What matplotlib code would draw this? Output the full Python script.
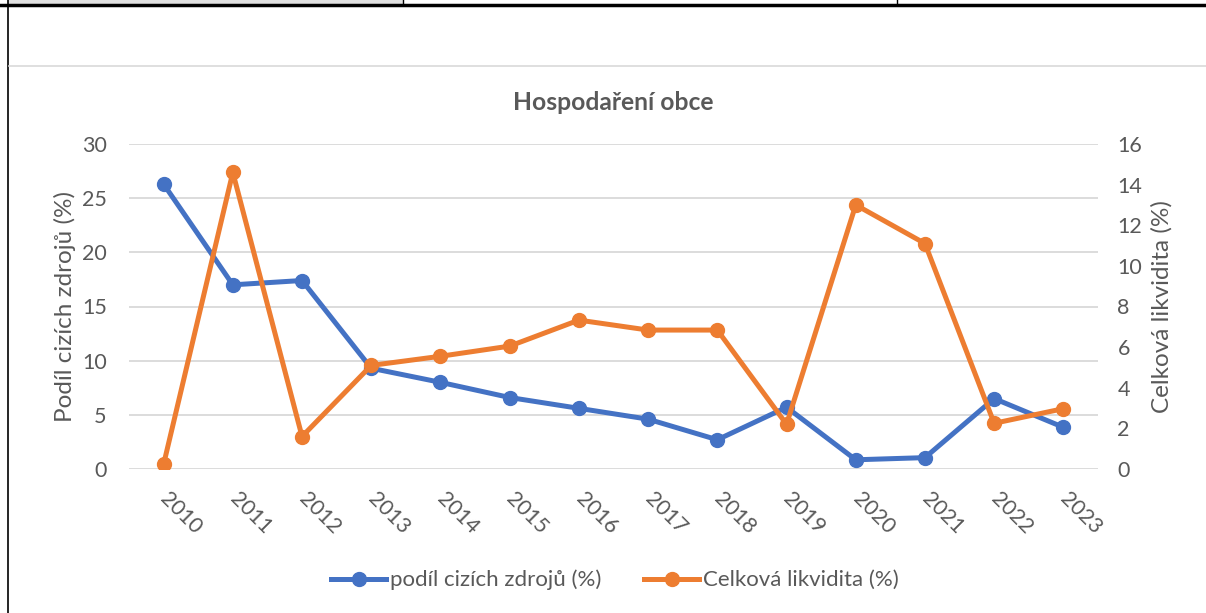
import matplotlib
matplotlib.use("Agg")
import matplotlib.pyplot as plt
from matplotlib.lines import Line2D
from matplotlib.patches import Rectangle

years = ["2010", "2011", "2012", "2013", "2014", "2015", "2016",
         "2017", "2018", "2019", "2020", "2021", "2022", "2023"]
podil = [26.3, 17.0, 17.4, 9.3, 8.0, 6.6, 5.6, 4.6, 2.7, 5.7, 0.85, 1.05, 6.5, 3.85]
likvidita = [0.23, 14.6, 1.6, 5.1, 5.55, 6.05, 7.33, 6.84, 6.84, 2.2, 13.0, 11.1, 2.25, 2.97]

title = "Hospodaření obce"
left_label = "Podíl cizích zdrojů (%)"
right_label = "Celková likvidita (%)"
name1 = "podíl cizích zdrojů (%)"
name2 = "Celková likvidita (%)"

BLUE = "#4472C4"
ORANGE = "#ED7D31"
TXT = "#595959"
GRID = "#D9D9D9"

plt.rcParams['font.family'] = ['Lato', 'DejaVu Sans']

fig = plt.figure(figsize=(12.06, 6.13), dpi=100)
W, H = 1206, 613

def fx(px):
    return px / W

def fy(py):
    return 1 - py / H

# page decorations (table cell borders around the chart)
fig.patches.append(Rectangle((fx(8), fy(4)), fx(395), 4 / H, transform=fig.transFigure,
                             facecolor="#E0E0E0", edgecolor="none"))
fig.lines.append(Line2D([0, 1], [fy(5), fy(5)], transform=fig.transFigure, color="black", lw=2.5))
fig.lines.append(Line2D([fx(403), fx(403)], [fy(0), fy(5)], transform=fig.transFigure, color="black", lw=1))
fig.lines.append(Line2D([fx(897), fx(897)], [fy(0), fy(5)], transform=fig.transFigure, color="black", lw=1))
fig.lines.append(Line2D([fx(8), fx(8)], [0, 1], transform=fig.transFigure, color="black", lw=1.2))
fig.lines.append(Line2D([fx(9), 1], [fy(66), fy(66)], transform=fig.transFigure, color=GRID, lw=1.2))

ax = fig.add_axes([fx(129), fy(469), fx(1098) - fx(129), (469 - 144) / H])
ax2 = ax.twinx()

x = list(range(len(years)))
ax.plot(x, podil, color=BLUE, lw=3.6, marker="o", ms=10, solid_capstyle="round", zorder=3)
ax2.plot(x, likvidita, color=ORANGE, lw=3.6, marker="o", ms=10, solid_capstyle="round", zorder=3)

ax.set_xlim(-0.5, len(years) - 0.5)
ax.set_ylim(0, 30)
ax2.set_ylim(0, 16)
ax.set_yticks(range(0, 31, 5))
ax2.set_yticks(range(0, 17, 2))
ax.set_xticks(x)
ax.set_xticklabels(years, rotation=-45, ha="left", va="center", rotation_mode="anchor")

for a in (ax, ax2):
    for s in a.spines.values():
        s.set_visible(False)
    a.tick_params(length=0, colors=TXT, labelsize=15.5)
ax.tick_params(axis="y", pad=16)
ax2.tick_params(axis="y", pad=14)
ax.tick_params(axis="x", pad=19)
ax.grid(axis="y", color=GRID, lw=1.3)
ax.set_axisbelow(True)

ax.set_ylabel(left_label, color=TXT, fontsize=17.5, labelpad=4)
ax2.set_ylabel(right_label, color=TXT, fontsize=17.5, labelpad=6)

fig.text(fx(613), fy(103), title, ha="center", va="center", fontsize=17.7,
         fontweight="bold", color=TXT)

h1 = Line2D([], [], color=BLUE, lw=3.6, marker="o", ms=10)
h2 = Line2D([], [], color=ORANGE, lw=3.6, marker="o", ms=10)
leg = fig.legend([h1, h2], [name1, name2], loc="center", bbox_to_anchor=(fx(615), fy(580)),
                 ncol=2, frameon=False, fontsize=16, handlelength=2.5, handletextpad=0.18,
                 columnspacing=1.9, labelcolor=TXT)

fig.savefig("out.png", dpi=100)
